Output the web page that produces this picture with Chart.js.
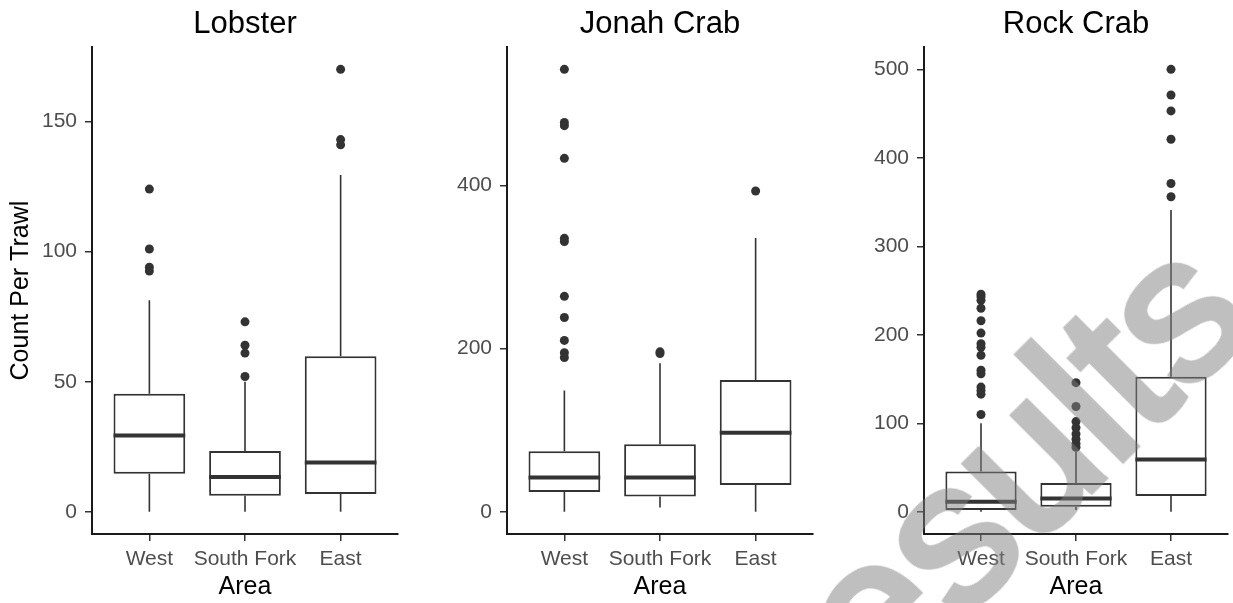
<!DOCTYPE html>
<html>
<head>
<meta charset="utf-8">
<script src="https://cdn.jsdelivr.net/npm/chart.js@4.4.1/dist/chart.umd.min.js"></script>
<style>
  html, body { margin: 0; padding: 0; background: #fff; }
  #wrap { position: relative; width: 1233px; height: 603px; overflow: hidden; }
  canvas { position: absolute; top: 0; }
  #mark {
    position: absolute; left: 966px; top: 515px;
    transform: translate(-50%, -50%) rotate(-45deg);
    font: 205px 'Liberation Sans', Arial, sans-serif; line-height: 1;
    white-space: nowrap; color: rgb(128, 128, 128);
    -webkit-text-stroke: 7px rgb(128, 128, 128);
    opacity: 0.5; pointer-events: none;
  }
</style>
</head>
<body>
<div id="wrap">
  <canvas id="lobster" width="412" height="603" style="left:0"></canvas>
  <canvas id="jonah" width="412" height="603" style="left:412px"></canvas>
  <canvas id="rock" width="409" height="603" style="left:824px"></canvas>
  <div id="mark">Results</div>
</div>
<script>
Chart.defaults.font.family = "'Liberation Sans', Arial, sans-serif";

const areas = ['West', 'South Fork', 'East'];

// [min, Q1, median, Q3, max] for each area
const lobsterBoxes = [[0, 14.6, 29.3, 45.4, 81.3], [0, 6.2, 13.4, 23.4, 50], [0, 6.9, 19, 59.8, 129.4]];
const lobsterOutliers = [[124, 101, 94, 92.5], [73, 64, 61, 52], [170, 143, 141]];
const lobsterTicks = [0, 50, 100, 150];

const jonahBoxes = [[0, 24.2, 42.2, 74.1, 148.5], [5.4, 18.9, 42.2, 82.7, 182], [0, 32.8, 97, 161.6, 335.5]];
const jonahOutliers = [[542, 477, 473, 433, 335, 331, 264, 238, 210, 195, 189], [196, 194], [393]];
const jonahTicks = [0, 200, 400];

const rockBoxes = [[0, 2, 11.3, 45.7, 100], [2, 5.7, 15, 32.5, 68], [0, 17.8, 59.3, 152.7, 341]];
const rockOutliers = [
  [246, 243, 239, 230, 216, 202, 190, 186, 177, 160, 156, 141, 137, 133, 110],
  [146, 119, 102, 95, 88, 82, 77, 73],
  [500, 471, 453, 421, 371, 356],
];
const rockTicks = [0, 100, 200, 300, 400, 500];

// whiskers + median, drawn on top of the floating bars
function boxLines(boxes) {
  return {
    id: 'boxLines',
    afterDatasetsDraw(chart) {
      const ctx = chart.ctx;
      const y = chart.scales.y;
      const meta = chart.getDatasetMeta(0);
      ctx.save();
      ctx.strokeStyle = '#333333';
      meta.data.forEach((bar, i) => {
        const [lo, q1, med, q3, hi] = boxes[i];
        const half = bar.width / 2;
        ctx.lineWidth = 1.6;
        ctx.beginPath();
        ctx.moveTo(bar.x, y.getPixelForValue(q3));
        ctx.lineTo(bar.x, y.getPixelForValue(hi));
        ctx.moveTo(bar.x, y.getPixelForValue(q1));
        ctx.lineTo(bar.x, y.getPixelForValue(lo));
        ctx.stroke();
        ctx.lineWidth = 4;
        ctx.beginPath();
        ctx.moveTo(bar.x - half, y.getPixelForValue(med));
        ctx.lineTo(bar.x + half, y.getPixelForValue(med));
        ctx.stroke();
      });
      ctx.restore();
    },
  };
}

function makePanel(id, title, boxes, outliers, ticks, yWidth, padRight, yTitle) {
  // ggplot style 5% expansion
  const all = boxes.flat().concat(outliers.flat());
  const lo = Math.min(...all), hi = Math.max(...all);
  const pad = (hi - lo) * 0.05;

  const points = [];
  outliers.forEach((list, i) => list.forEach(v => points.push({ x: i + 1, y: v })));

  return new Chart(document.getElementById(id), {
    type: 'bar',
    data: {
      datasets: [
        {
          data: boxes.map((b, i) => ({ x: i + 1, y: [b[1], b[3]] })),
          backgroundColor: '#ffffff',
          borderColor: '#333333',
          borderWidth: 2,
          borderSkipped: false,
          barPercentage: 0.75,
          categoryPercentage: 1,
        },
        {
          type: 'scatter',
          data: points,
          pointRadius: 4.5,
          pointBackgroundColor: '#333333',
          pointBorderWidth: 0,
        },
      ],
    },
    options: {
      responsive: false,
      animation: false,
      events: [],
      layout: { padding: { right: padRight } },
      plugins: {
        legend: { display: false },
        tooltip: { enabled: false },
        title: {
          display: true,
          text: title,
          fullSize: false,
          color: '#000',
          font: { size: 31, weight: 'normal' },
          padding: { top: 6, bottom: 4 },
        },
      },
      scales: {
        x: {
          type: 'linear',
          min: 0.4,
          max: 3.6,
          offset: false,
          afterBuildTicks: s => { s.ticks = areas.map((a, i) => ({ value: i + 1 })); },
          afterFit: s => { s.height = 69; },
          ticks: {
            callback: v => areas[Math.round(v) - 1],
            color: '#4d4d4d',
            font: { size: 21 },
            padding: 6,
            maxRotation: 0,
            autoSkip: false,
          },
          grid: { drawOnChartArea: false, tickLength: 7, color: '#333', lineWidth: 1.5, offset: false },
          border: { color: '#1a1a1a', width: 2 },
          title: { display: true, text: 'Area', color: '#000', font: { size: 25 }, padding: { top: 0, bottom: 1 } },
        },
        y: {
          min: lo - pad,
          max: hi + pad,
          afterBuildTicks: s => { s.ticks = ticks.map(v => ({ value: v })); },
          afterFit: s => { s.width = yWidth; },
          ticks: { color: '#4d4d4d', font: { size: 21 }, padding: 8 },
          grid: { drawOnChartArea: false, tickLength: 7, color: '#333', lineWidth: 1.5 },
          border: { color: '#1a1a1a', width: 2 },
          title: {
            display: !!yTitle,
            text: yTitle || '',
            color: '#000',
            font: { size: 25 },
            padding: { top: 6, bottom: 0 },
          },
        },
      },
    },
    plugins: [boxLines(boxes)],
  });
}

makePanel('lobster', 'Lobster', lobsterBoxes, lobsterOutliers, lobsterTicks, 92, 14, 'Count Per Trawl');
makePanel('jonah', 'Jonah Crab', jonahBoxes, jonahOutliers, jonahTicks, 95, 11);
makePanel('rock', 'Rock Crab', rockBoxes, rockOutliers, rockTicks, 100, 5);
</script>
</body>
</html>
